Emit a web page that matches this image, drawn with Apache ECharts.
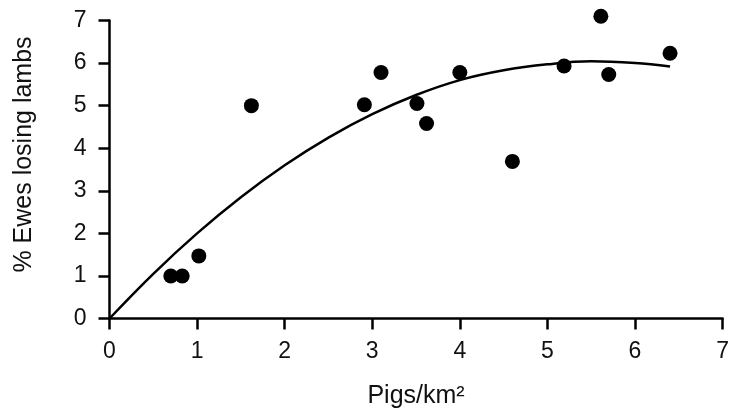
<!DOCTYPE html>
<html>
<head>
<meta charset="utf-8">
<script src="https://cdn.jsdelivr.net/npm/echarts@6/dist/echarts.min.js"></script>
<style>
html,body{margin:0;padding:0;background:#fff;}
#chart{width:732px;height:414px;}
</style>
</head>
<body>
<div id="chart"></div>
<script>
// Observed points
const pigsX = [0.70, 0.83, 1.02, 1.62, 2.91, 3.10, 3.51, 3.62, 4.00, 4.60, 5.19, 5.61, 5.70, 6.40];
const ewesY = [1.00, 1.00, 1.47, 5.00, 5.02, 5.78, 5.05, 4.58, 5.78, 3.69, 5.93, 7.10, 5.73, 6.23];
// Fitted curve
const fitX = [0, 0.5, 1, 1.5, 2, 2.5, 3, 3.5, 4, 4.5, 5, 5.5, 6, 6.4];
const fitY = [0, 1.05, 2.0, 2.85, 3.6, 4.25, 4.8, 5.25, 5.6, 5.83, 5.97, 6.04, 6.0, 5.92];
// Axis ticks
const xTicks = [0, 1, 2, 3, 4, 5, 6, 7];
const yTicks = [0, 1, 2, 3, 4, 5, 6, 7];
const xName = 'Pigs/km²';
const yName = '% Ewes losing lambs';

const FONT = '"Liberation Sans", Arial, Helvetica, sans-serif';
const INK = '#000';

const chart = echarts.init(document.getElementById('chart'), null, {renderer: 'canvas'});
chart.setOption({
  animation: false,
  backgroundColor: '#fff',
  grid: {left: 109.5, right: 6.5, top: 20.5, bottom: 95.5, containLabel: false},
  xAxis: {
    type: 'value',
    min: xTicks[0], max: xTicks[xTicks.length - 1], interval: 1,
    name: xName,
    nameLocation: 'middle', nameGap: 65,
    nameTextStyle: {fontFamily: FONT, fontSize: 25, color: '#111'},
    axisLine: {show: true, onZero: false, lineStyle: {color: INK, width: 2.5}},
    axisTick: {show: true, length: 11, inside: false, lineStyle: {color: INK, width: 2.5}},
    axisLabel: {fontFamily: FONT, fontSize: 23, color: '#111', margin: 22},
    splitLine: {show: false}
  },
  yAxis: {
    type: 'value',
    min: yTicks[0], max: yTicks[yTicks.length - 1], interval: 1,
    name: yName, nameLocation: 'middle', nameGap: 73,
    nameTextStyle: {fontFamily: FONT, fontSize: 25, color: '#111', padding: [0, 0, 0, 30]},
    axisLine: {show: true, onZero: false, lineStyle: {color: INK, width: 2.5}},
    axisTick: {show: true, length: 11, inside: false, lineStyle: {color: INK, width: 2.5}},
    axisLabel: {fontFamily: FONT, fontSize: 23, color: '#111', margin: 23},
    splitLine: {show: false}
  },
  series: [
    {
      type: 'line',
      data: fitX.map((x, i) => [x, fitY[i]]),
      smooth: 0.4,
      showSymbol: false,
      symbol: 'none',
      clip: false,
      lineStyle: {color: INK, width: 2.5},
      z: 2
    },
    {
      type: 'scatter',
      data: pigsX.map((x, i) => [x, ewesY[i]]),
      symbol: 'circle',
      symbolSize: 15,
      clip: false,
      itemStyle: {color: '#000', opacity: 1},
      z: 3
    }
  ]
});
</script>
</body>
</html>
